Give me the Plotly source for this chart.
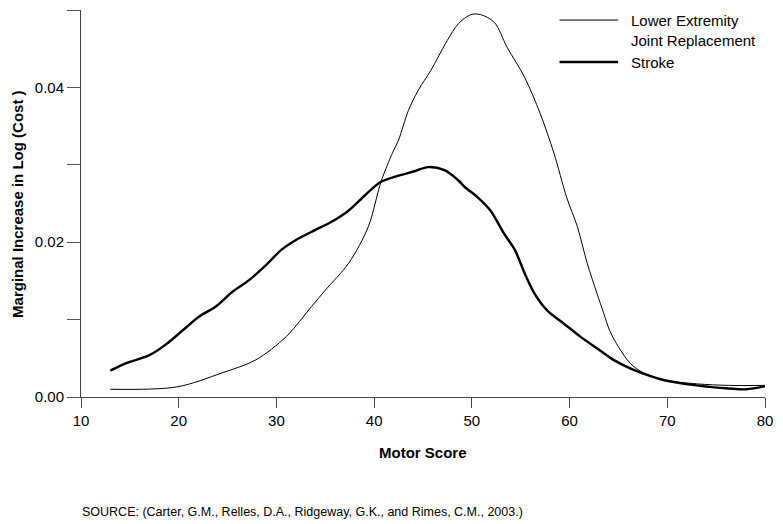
import plotly.graph_objects as go

# Motor score grid
lejr_x = [13.0, 19.8, 24.4, 27.9, 31.0, 33.6, 35.0, 37.4, 39.4, 40.7, 41.9, 42.5, 43.5,
          44.5, 45.8, 47.5, 48.6, 49.9, 50.9, 52.3, 53.6, 55.4, 57.0, 58.4, 59.7, 60.8,
          61.8, 62.8, 63.5, 64.1, 64.8, 65.9, 66.6, 67.6, 69.6, 73.0, 76.3, 80.0]
lejr_y = [0.0010, 0.0013, 0.0031, 0.0048, 0.0078, 0.0117, 0.0138, 0.0173, 0.0220, 0.0278,
          0.0316, 0.0332, 0.0370, 0.0396, 0.0422, 0.0461, 0.0482, 0.0494, 0.0494, 0.0484,
          0.0452, 0.0413, 0.0366, 0.0315, 0.0258, 0.0220, 0.0173, 0.0134, 0.0108, 0.0086,
          0.0069, 0.0048, 0.0039, 0.0031, 0.0022, 0.0017, 0.0015, 0.0015]

stroke_x = [13.0, 14.7, 17.0, 18.8, 20.4, 22.1, 23.8, 25.5, 27.2, 28.9, 30.5, 32.3, 34.0,
            35.6, 37.4, 39.1, 40.7, 42.5, 44.2, 45.5, 47.2, 48.6, 49.3, 50.6, 51.9, 53.3,
            54.4, 55.4, 56.4, 57.7, 59.4, 61.1, 62.8, 64.5, 66.2, 67.6, 69.6, 73.0, 76.3,
            78.1, 80.0]
stroke_y = [0.0034, 0.0044, 0.0054, 0.0069, 0.0086, 0.0104, 0.0117, 0.0136, 0.0151, 0.0170,
            0.0190, 0.0205, 0.0216, 0.0226, 0.0241, 0.0261, 0.0278, 0.0286, 0.0292, 0.0297,
            0.0293, 0.0280, 0.0271, 0.0258, 0.0241, 0.0211, 0.0190, 0.0160, 0.0134, 0.0112,
            0.0095, 0.0078, 0.0063, 0.0048, 0.0037, 0.0030, 0.0022, 0.0015, 0.0011, 0.0010,
            0.0014]

x_ticks = [10, 20, 30, 40, 50, 60, 70, 80]
y_ticks = [0.00, 0.01, 0.02, 0.03, 0.04, 0.05]
y_ticktext = ["0.00", "", "0.02", "", "0.04", ""]

FONT = "Liberation Sans, Arial, sans-serif"

fig = go.Figure()
fig.add_trace(go.Scatter(x=lejr_x, y=lejr_y, mode="lines",
                         line=dict(color="black", width=1, shape="spline", smoothing=0.9),
                         name="Lower Extremity Joint Replacement", showlegend=False))
fig.add_trace(go.Scatter(x=stroke_x, y=stroke_y, mode="lines",
                         line=dict(color="black", width=2.4, shape="spline", smoothing=0.9),
                         name="Stroke", showlegend=False))

# hand-made legend (long line samples like the original)
for yp, w in [(0.974, 1), (0.8656, 2.4)]:
    fig.add_shape(type="line", xref="paper", yref="paper", x0=0.6996, x1=0.7852, y0=yp, y1=yp,
                  line=dict(color="black", width=w))
fig.add_annotation(xref="paper", yref="paper", x=0.801, y=0.974, xanchor="left", yanchor="middle",
                   text="Lower Extremity", showarrow=False, font=dict(size=15, color="black"))
fig.add_annotation(xref="paper", yref="paper", x=0.801, y=0.920, xanchor="left", yanchor="middle",
                   text="Joint Replacement", showarrow=False, font=dict(size=15, color="black"))
fig.add_annotation(xref="paper", yref="paper", x=0.801, y=0.8656, xanchor="left", yanchor="middle",
                   text="Stroke", showarrow=False, font=dict(size=15, color="black"))

# axis titles and source
fig.add_annotation(xref="paper", yref="paper", x=0.5, y=-0.144, xanchor="center", yanchor="middle",
                   text="<b>Motor Score</b>", showarrow=False, font=dict(size=15, color="black"))
fig.add_annotation(xref="paper", yref="paper", x=-0.0929, y=0.5, xanchor="center", yanchor="middle",
                   text="<b>Marginal Increase in Log (Cost )</b>", textangle=-90, showarrow=False,
                   font=dict(size=15, color="black"))
fig.add_annotation(xref="paper", yref="paper", x=-0.001, y=-0.297, xanchor="left", yanchor="middle",
                   text="SOURCE: (Carter, G.M., Relles, D.A., Ridgeway, G.K., and Rimes, C.M., 2003.)",
                   showarrow=False, font=dict(size=12.5, color="black"))

fig.update_layout(
    width=783, height=524,
    margin=dict(l=81, r=13, t=10, b=127),
    paper_bgcolor="white", plot_bgcolor="white",
    font=dict(family=FONT, color="black"),
    showlegend=False,
)
fig.update_xaxes(range=[10, 80], tickvals=x_ticks, ticks="outside", ticklen=10, tickwidth=1,
                 tickcolor="#444", showline=True, linecolor="#444", linewidth=1,
                 showgrid=False, zeroline=False, ticklabeloverflow="allow",
                 tickfont=dict(size=15, color="black"))
fig.update_yaxes(range=[0, 0.05], tickvals=y_ticks, ticktext=y_ticktext, ticks="outside",
                 ticklen=13, tickwidth=1, tickcolor="#555", showline=True, linecolor="#444",
                 linewidth=1, showgrid=False, zeroline=False, tickfont=dict(size=15, color="black"))

# drop the browser's default body margin and scrollbars so the figure fills the window
fig.write_html("out.html",
               config={"displayModeBar": False, "responsive": False},
               post_script="document.body.style.margin='0';"
                           "document.documentElement.style.overflow='hidden';")
